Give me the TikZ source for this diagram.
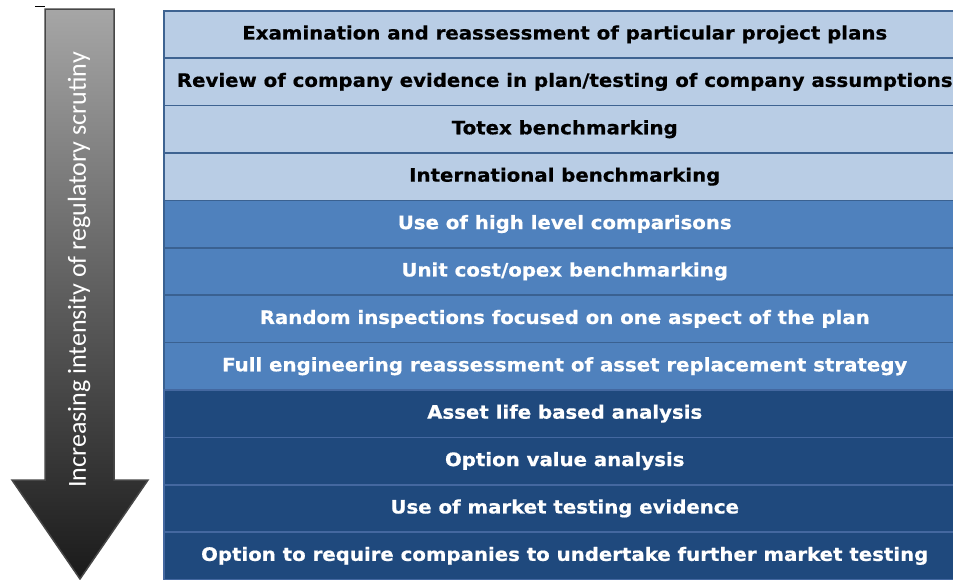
\documentclass[tikz,border=0pt]{standalone}
\usepackage{fontspec}
\setmainfont{DejaVu Sans}
\newfontfamily\rowfont[FakeStretch=1.067,FakeBold=0.6]{DejaVu Sans Bold}
\newfontfamily\arrowfont{Carlito}
\definecolor{lightrow}{HTML}{B9CDE5}
\definecolor{midrow}{HTML}{4F81BD}
\definecolor{darkrow}{HTML}{1F497D}
\definecolor{lightline}{HTML}{3E6391}
\definecolor{midline}{HTML}{3A6191}
\definecolor{darkline}{HTML}{4468A0}
\definecolor{arrowtop}{HTML}{A6A6A6}
\definecolor{arrowmid}{HTML}{5E5E5E}
\definecolor{arrowbot}{HTML}{1A1A1A}
\definecolor{arrowedge}{HTML}{474747}
\tikzset{
  rowbox/.style={rectangle, anchor=north west, minimum width=802pt, minimum height=47.4pt,
    inner sep=0pt, line width=1.5pt, font=\rowfont\fontsize{18.5}{21}\selectfont},
  lightbox/.style={rowbox, fill=lightrow, draw=lightline, text=black},
  midbox/.style={rowbox, fill=midrow, draw=midline, text=white},
  darkbox/.style={rowbox, fill=darkrow, draw=darkline, text=white},
  arrowlabel/.style={rotate=90, text=white, inner sep=0pt, font=\arrowfont\fontsize{26}{29}\selectfont}
}
\begin{document}
\begin{tikzpicture}[x=1pt,y=-1pt]
\useasboundingbox (0,0) rectangle (953,579);
\clip (0,0) rectangle (953,579);
% arrow
\path[draw=arrowedge, line width=1.5pt, top color=arrowtop, bottom color=arrowbot, middle color=arrowmid]
  (45,9) -- (114,9) -- (114,480) -- (148,480) -- (80,579) -- (12,480) -- (45,480) -- cycle;
\draw[black, line width=1pt] (35,6) coordinate (dashA) -- (45,6) coordinate (dashB);
\node[arrowlabel] (label) at (79,270) {Increasing intensity of regulatory scrutiny};
% rows
\node[lightbox] (r1) at (163,10.0) {Examination and reassessment of particular project plans};
\node[lightbox] (r2) at (163,57.4) {Review of company evidence in plan/testing of company assumptions};
\node[lightbox] (r3) at (163,104.8) {Totex benchmarking};
\node[lightbox] (r4) at (163,152.2) {International benchmarking};
\node[midbox] (r5) at (163,199.6) {Use of high level comparisons};
\node[midbox] (r6) at (163,247.0) {Unit cost/opex benchmarking};
\node[midbox] (r7) at (163,294.4) {Random inspections focused on one aspect of the plan};
\node[midbox] (r8) at (163,341.8) {Full engineering reassessment of asset replacement strategy};
\node[darkbox] (r9) at (163,389.2) {Asset life based analysis};
\node[darkbox] (r10) at (163,436.6) {Option value analysis};
\node[darkbox] (r11) at (163,484.0) {Use of market testing evidence};
\node[darkbox] (r12) at (163,531.4) {Option to require companies to undertake further market testing};
\end{tikzpicture}
\end{document}
